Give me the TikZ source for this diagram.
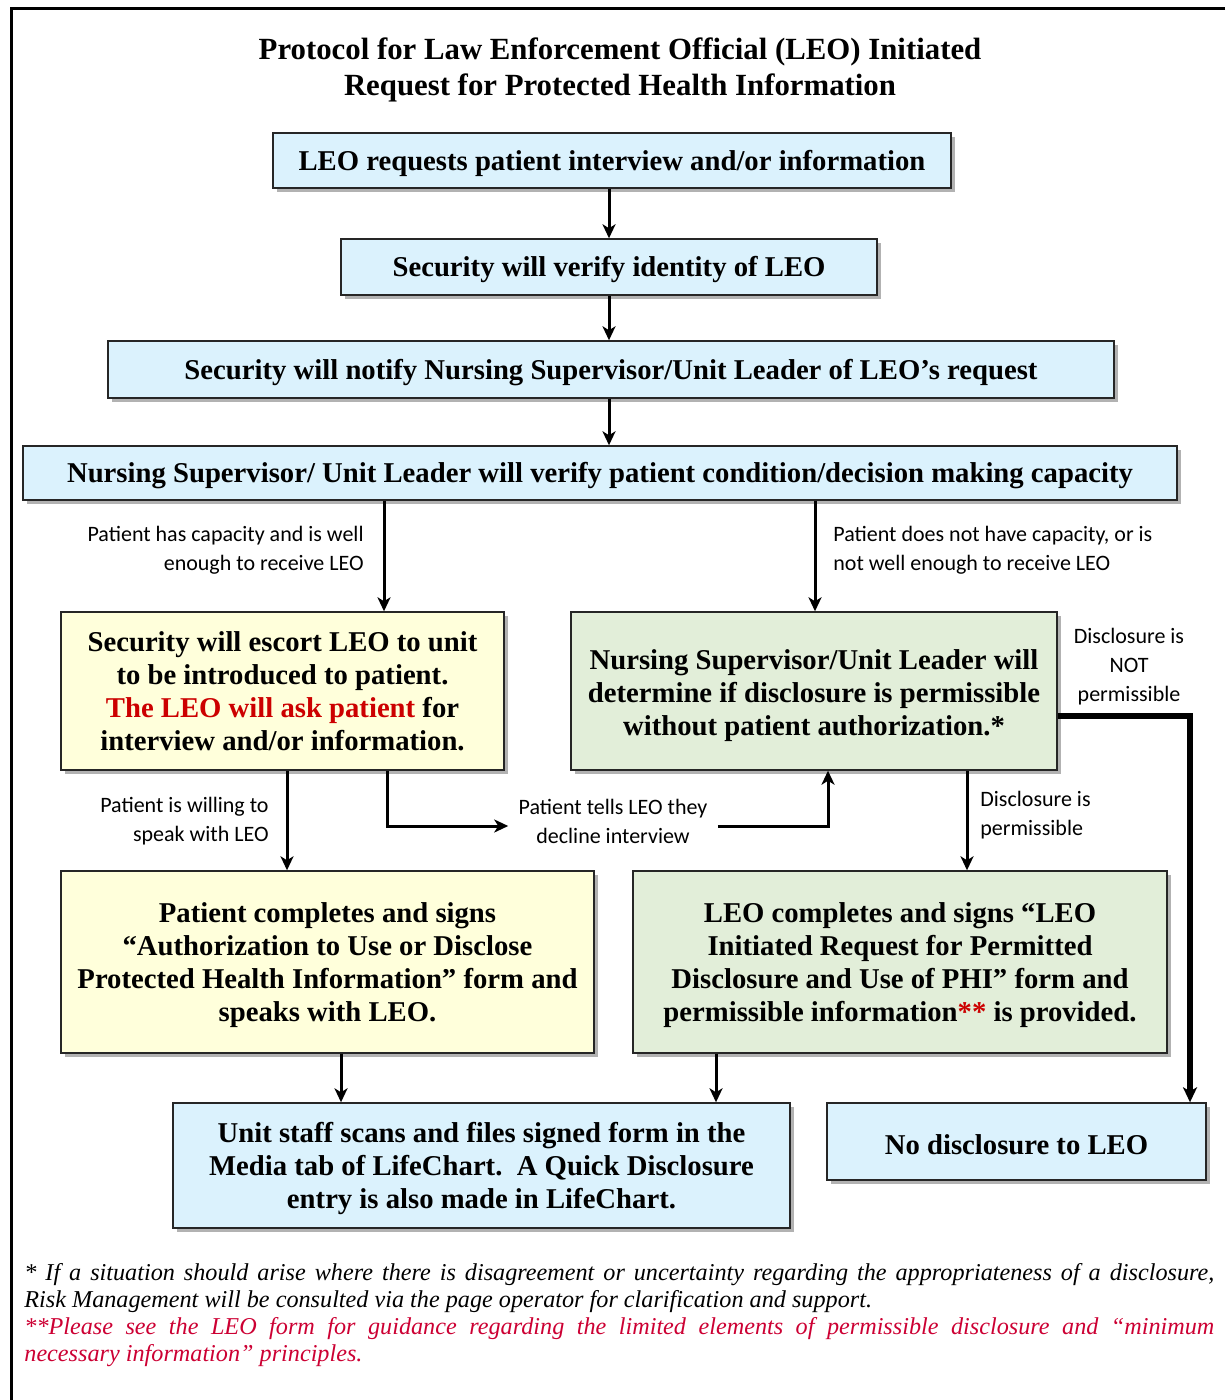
\documentclass[tikz,border=0pt]{standalone}
\usepackage{fontspec}
\setmainfont{Liberation Serif}[BoldFont={Liberation Serif Bold},ItalicFont={Liberation Serif Italic},BoldItalicFont={Liberation Serif Bold Italic}]
\newfontfamily\lblfont{Carlito}
\usetikzlibrary{arrows.meta,shadows,calc}
\definecolor{bluef}{RGB}{219,242,253}
\definecolor{yelf}{RGB}{255,255,219}
\definecolor{grnf}{RGB}{226,238,217}
\definecolor{redt}{RGB}{204,0,0}
\definecolor{redf}{RGB}{204,0,51}
\newcommand\topstr{\rule{0pt}{13pt}}
\begin{document}
\begin{tikzpicture}[x=0.5pt,y=-0.5pt,
 box/.style={draw=black!85, line width=0.7pt, inner sep=0pt, align=center,
   font=\bfseries\fontsize{14.35}{16.5}\selectfont,
   drop shadow={shadow xshift=2pt,shadow yshift=-2pt,fill=black!60}},
 bbox/.style={box,fill=bluef}, ybox/.style={box,fill=yelf}, gbox/.style={box,fill=grnf},
 arr/.style={line width=1.5pt,-{Stealth[length=7pt,width=6.5pt,inset=2pt]}},
 arrthick/.style={line width=2.8pt,-{Stealth[length=7.5pt,width=7pt,inset=2pt]}},
 lbl/.style={font=\lblfont\fontsize{11}{14.5}\selectfont, inner sep=0pt},
]
\useasboundingbox (0,0) rectangle (1225,1400);
\draw[line width=1.5pt] (1225,9) -- (11,9) -- (11,1400);

\node[font=\bfseries\fontsize{15.4}{18}\selectfont, align=center, inner sep=0pt] (title) at (620,70)
 {Protocol for Law Enforcement Official (LEO) Initiated\\Request for Protected Health Information};

\node[bbox, minimum width=339pt, minimum height=27.5pt] (n1) at (612,160.5) {\topstr LEO requests patient interview and/or information};
\node[bbox, minimum width=268pt, minimum height=28pt] (n2) at (609,267) {\topstr Security will verify identity of LEO};
\node[bbox, minimum width=503pt, minimum height=28.5pt] (n3) at (611,369.5) {\topstr Security will notify Nursing Supervisor/Unit Leader of LEO’s request};
\node[bbox, minimum width=577pt, minimum height=27pt] (n4) at (600,473) {\topstr Nursing Supervisor/ Unit Leader will verify patient condition/decision making capacity};

\node[ybox, minimum width=221.5pt, minimum height=79pt] (n5) at (282.5,691)
 {Security will escort LEO to unit\\to be introduced to patient.\\{\color{redt}The LEO will ask patient} for\\interview and/or information.};
\node[gbox, minimum width=243pt, minimum height=79pt] (n6) at (814,691)
 {\rule{0pt}{15pt}Nursing Supervisor/Unit Leader will\\determine if disclosure is permissible\\without patient authorization.*};
\node[ybox, minimum width=266.5pt, minimum height=91pt] (n7) at (327.5,962)
 {\topstr Patient completes and signs\\“Authorization to Use or Disclose\\Protected Health Information” form and\\speaks with LEO.};
\node[gbox, minimum width=267pt, minimum height=91pt] (n8) at (900,962)
 {\topstr LEO completes and signs “LEO\\Initiated Request for Permitted\\Disclosure and Use of PHI” form and\\permissible information{\color{redt}**} is provided.};
\node[bbox, minimum width=308.5pt, minimum height=62.5pt] (n9) at (481.5,1165.5)
 {\topstr Unit staff scans and files signed form in the\\Media tab of LifeChart.\ \ A Quick Disclosure\\entry is also made in LifeChart.};
\node[bbox, minimum width=189.5pt, minimum height=38.5pt] (n10) at (1016.5,1141.5) {\topstr No disclosure to LEO};

\node[lbl, anchor=east, align=right] (l1) at (364,550) {Patient has capacity and is well\\enough to receive LEO};
\node[lbl, anchor=west, align=left] (l2) at (833,550) {Patient does not have capacity, or is\\not well enough to receive LEO};
\node[lbl, align=center] (l3) at (1129,667) {Disclosure is\\NOT\\permissible};
\node[lbl, anchor=east, align=right] (l4) at (269,821) {Patient is willing to\\speak with LEO};
\node[lbl, align=center, inner xsep=5pt] (dec) at (613,821) {Patient tells LEO they\\decline interview};
\node[lbl, anchor=west, align=left] (l5) at (980,815) {Disclosure is\\permissible};

\coordinate (c384) at (384,0);
\coordinate (c815) at (815,0);
\coordinate (c287) at (287,0);
\coordinate (c387) at (387,0);
\coordinate (c828) at (828,0);
\coordinate (c967) at (967,0);
\coordinate (c1190) at (1190,0);
\coordinate (c341) at (341,0);
\coordinate (c716) at (716,0);
\coordinate (r826) at (0,826);
\coordinate (r716) at (0,716);

\draw[arr] (n1.south -| n2.north) -- (n2.north);
\draw[arr] (n2.south) -- (n2.south |- n3.north);
\draw[arr] (n3.south -| n2.south) -- (n4.north -| n2.south);
\draw[arr] (n4.south -| c384) -- (n5.north -| c384);
\draw[arr] (n4.south -| c815) -- (n6.north -| c815);
\draw[arr] (n5.south -| c287) -- (n7.north -| c287);
\draw[arr] (n5.south -| c387) |- (dec.west |- r826);
\draw[arr] (dec.east |- r826) -| (n6.south -| c828);
\draw[arr] (n6.south -| c967) -- (n8.north -| c967);
\draw[arrthick] (n6.east |- r716) -| (n10.north -| c1190);
\draw[arr] (n7.south -| c341) -- (n9.north -| c341);
\draw[arr] (n8.south -| c716) -- (n9.north -| c716);

\node[anchor=north west, inner sep=0pt, text width=595pt, align=justify,
  font=\itshape\fontsize{12.1}{13.5}\selectfont] (foot) at (24,1263)
 {* If a situation should arise where there is disagreement or uncertainty regarding the appropriateness of a disclosure,\linebreak
 Risk Management will be consulted via the page operator for clarification and support.\par
 {\color{redf}**Please see the LEO form for guidance regarding the limited elements of permissible disclosure and “minimum\linebreak
 necessary information” principles.}};
\end{tikzpicture}
\end{document}
